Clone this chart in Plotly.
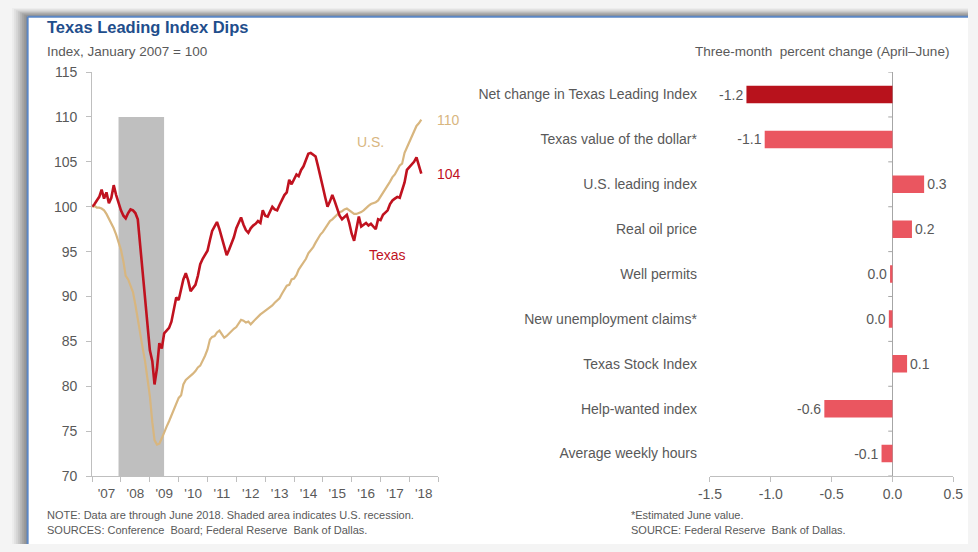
import pandas as pd
import plotly.graph_objects as go

# ---- Data -------------------------------------------------------------
months = pd.date_range("2007-01-01", periods=138, freq="MS")

texas = [
    100.0, 100.3, 100.7, 101.1, 101.9, 100.9, 101.6, 100.4, 101.0, 102.4, 101.3, 100.4,
    99.6, 99.0, 98.7, 99.3, 99.7, 99.6, 99.3, 98.6, 95.5, 92.5, 90.3, 87.0,
    84.0, 82.8, 80.2, 82.0, 84.8, 84.2, 85.9, 86.2, 86.5, 87.2, 88.4, 89.9,
    89.6, 90.8, 91.9, 92.6, 91.8, 90.6, 91.0, 91.3, 92.3, 93.6, 94.2, 94.7,
    95.1, 96.3, 97.3, 97.8, 98.3, 97.5, 96.6, 95.5, 94.6, 95.2, 95.9, 96.6,
    97.6, 98.3, 98.8, 98.0, 97.4, 97.1, 97.6, 97.9, 98.1, 98.4, 98.2, 99.6,
    99.0, 98.9, 99.5, 100.0, 99.7, 99.6, 100.2, 100.7, 101.3, 101.6, 103.0, 102.5,
    103.0, 103.6, 103.4, 104.1, 104.5, 105.2, 105.9, 106.0, 105.8, 105.6, 104.5, 103.2,
    102.2, 101.0, 100.0, 100.6, 101.3, 100.6, 99.8, 99.0, 98.6, 98.8, 99.1, 98.2,
    97.0, 96.2, 97.4, 98.9, 97.8, 98.0, 98.2, 97.9, 98.1, 97.8, 97.5, 98.6,
    98.5, 99.1, 99.3, 99.6, 100.3, 100.7, 100.9, 101.1, 101.0, 101.8, 102.7, 104.1,
    104.4, 104.8, 105.0, 105.5, 104.6, 103.7,
]

us = [
    100.0, 100.1, 99.9, 99.9, 99.8, 99.6, 99.2, 98.7, 98.2, 97.6, 96.9, 96.0,
    95.2, 93.9, 92.3, 91.9, 91.2, 90.5, 89.1, 87.3, 85.9, 84.3, 82.8, 80.9,
    78.9, 76.0, 74.0, 73.5, 73.6, 74.2, 74.9, 75.5, 76.1, 76.7, 77.4, 78.1,
    78.7, 79.0, 80.2, 80.7, 80.9, 81.2, 81.4, 81.7, 82.1, 82.3, 82.8, 83.4,
    84.1, 85.2, 85.5, 85.6, 86.0, 86.2, 85.8, 85.4, 85.6, 85.9, 86.1, 86.4,
    86.6, 87.0, 87.4, 87.3, 87.1, 87.2, 86.9, 87.2, 87.5, 87.8, 88.0, 88.2,
    88.4, 88.7, 88.8, 89.0, 89.3, 89.6, 89.8, 90.3, 90.8, 91.2, 91.3, 91.9,
    92.0, 92.4, 93.0, 93.4, 93.7, 94.2, 94.8, 95.1, 95.5, 96.0, 96.5, 96.9,
    97.2, 97.6, 98.1, 98.4, 98.6, 98.9, 99.2, 99.4, 99.5, 99.7, 99.8, 99.6,
    99.4, 99.2, 99.2, 99.3, 99.4, 99.6, 99.9, 100.1, 100.3, 100.4, 100.5, 100.7,
    101.1, 101.6, 102.0, 102.4, 102.8, 103.3, 103.6, 104.1, 104.6, 104.8, 106.0, 106.6,
    107.2, 107.9, 108.4, 109.0, 109.3, 109.7,
]

recession = ("2007-12-01", "2009-06-30")

components = [
    "Net change in Texas Leading Index",
    "Texas value of the dollar*",
    "U.S. leading index",
    "Real oil price",
    "Well permits",
    "New unemployment claims*",
    "Texas Stock Index",
    "Help-wanted index",
    "Average weekly hours",
]
changes = [-1.2, -1.05, 0.26, 0.16, -0.02, -0.03, 0.12, -0.56, -0.09]

left_yticks = [70, 75, 80, 85, 90, 95, 100, 105, 110, 115]
right_xticks = [-1.5, -1.0, -0.5, 0.0, 0.5]

# ---- Styling ----------------------------------------------------------
W, H = 978, 552
FONT = "Liberation Sans, Arial, sans-serif"
GREY_TXT = "#595959"
AXIS = "#BFBFBF"
RED = "#C0121F"
TAN = "#D8B67F"
BAR_DARK = "#B8121C"
BAR_LIGHT = "#EA5660"
BLUE_TITLE = "#1F4E8C"


def px_x(p):
    return p / W


def px_y(p):
    return 1 - p / H


fig = go.Figure()

fig.add_trace(go.Scatter(
    x=months, y=us, mode="lines", line=dict(color=TAN, width=2.2),
    xaxis="x", yaxis="y", showlegend=False, hoverinfo="skip"))
fig.add_trace(go.Scatter(
    x=months, y=texas, mode="lines", line=dict(color=RED, width=2.6),
    xaxis="x", yaxis="y", showlegend=False, hoverinfo="skip"))


def fmt(v):
    s = f"{v:.1f}"
    return "0.0" if s == "-0.0" else s


bar_colors = [BAR_DARK] + [BAR_LIGHT] * (len(changes) - 1)
fig.add_trace(go.Bar(
    x=changes, y=components, orientation="h", marker=dict(color=bar_colors, line=dict(width=0)),
    width=0.39, text=[fmt(v) for v in changes], textposition="outside",
    textfont=dict(size=14, color=GREY_TXT, family=FONT), cliponaxis=False,
    constraintext="none", xaxis="x2", yaxis="y2", showlegend=False, hoverinfo="skip"))

shapes = []
# card shadow (soft grey edge) and the card itself
for i, c in enumerate(["#EDEDED", "#E2E2E2", "#D6D6D6", "#C8C8C8", "#B8B8B8", "#A8A8A8", "#9A9A9A", "#8E8E8E"]):
    shapes.append(dict(type="rect", xref="paper", yref="paper", layer="below",
                       x0=px_x(i * 2), x1=1, y0=0, y1=px_y(i * 1.1),
                       fillcolor=c, line=dict(width=0)))
shapes.append(dict(type="rect", xref="paper", yref="paper", layer="below",
                   x0=px_x(16), x1=1, y0=0, y1=px_y(9),
                   fillcolor="white", line=dict(width=0)))
shapes.append(dict(type="line", xref="paper", yref="paper", layer="below",
                   x0=px_x(16), x1=px_x(16), y0=0, y1=px_y(9),
                   line=dict(color="#5B87C5", width=2)))
shapes.append(dict(type="line", xref="paper", yref="paper", layer="below",
                   x0=px_x(16), x1=1, y0=px_y(9), y1=px_y(9),
                   line=dict(color="#5B87C5", width=2)))
# recession shading
shapes.append(dict(type="rect", xref="x", yref="y", layer="below",
                   x0=recession[0], x1=recession[1], y0=left_yticks[0], y1=110,
                   fillcolor="#BFBFBF", line=dict(width=0)))
# category separators on the zero line
for k in range(len(components) + 1):
    shapes.append(dict(type="line", xref="x2", yref="y2", layer="above",
                       x0=-0.035, x1=0, y0=k - 0.5, y1=k - 0.5,
                       line=dict(color="#A6A6A6", width=1)))

ann = []


def note(x, y, text, size=11.5, color=GREY_TXT, anchor="left", bold=False, fam=FONT):
    ann.append(dict(xref="paper", yref="paper", x=px_x(x), y=px_y(y), text=f"<b>{text}</b>" if bold else text,
                    showarrow=False, xanchor=anchor, yanchor="middle",
                    font=dict(size=size, color=color, family=fam)))


note(34, 20, "Texas Leading Index Dips", size=16.5, color=BLUE_TITLE, bold=True)
note(34, 45, "Index, January 2007 = 100", size=13.5)
note(961, 45, "Three-month  percent change (April–June)", size=13.5, anchor="right")
note(34, 522, "NOTE: Data are through June 2018. Shaded area indicates U.S. recession.", size=11)
note(34, 538, "SOURCES: Conference  Board; Federal Reserve  Bank of Dallas.", size=11)
note(631, 522, "*Estimated June value.", size=11)
note(631, 538, "SOURCE: Federal Reserve  Bank of Dallas.", size=11)

# series labels
ann.append(dict(xref="x", yref="y", x=months[-1], y=us[-1], text=f"{round(us[-1])}",
                showarrow=False, xanchor="left", xshift=14, font=dict(size=14, color=TAN, family=FONT)))
ann.append(dict(xref="x", yref="y", x=months[-1], y=texas[-1], text=f"{round(texas[-1])}",
                showarrow=False, xanchor="left", xshift=14, font=dict(size=14, color=RED, family=FONT)))
ann.append(dict(xref="x", yref="y", x="2016-09-01", y=107.2, text="U.S.",
                showarrow=False, font=dict(size=14, color=TAN, family=FONT)))
ann.append(dict(xref="x", yref="y", x="2017-04-01", y=94.6, text="Texas",
                showarrow=False, font=dict(size=14, color=RED, family=FONT)))

ydom = [px_y(482), px_y(66)]

fig.update_layout(
    width=W, height=H, autosize=False,
    margin=dict(l=0, r=0, t=0, b=0),
    paper_bgcolor="#F4F4F4", plot_bgcolor="rgba(0,0,0,0)",
    font=dict(family=FONT, color=GREY_TXT),
    shapes=shapes, annotations=ann, bargap=0.6,
    xaxis=dict(domain=[px_x(82), px_x(436)], anchor="y", type="date",
               range=["2007-01-01", "2019-01-01"], tick0="2007-01-01", dtick="M12",
               ticklabelmode="period", tickformat="'%y", ticks="outside", ticklen=5,
               tickcolor=AXIS, showline=True, linecolor=AXIS, linewidth=1,
               showgrid=False, zeroline=False, tickfont=dict(size=13.5, color=GREY_TXT)),
    yaxis=dict(domain=ydom, anchor="x", range=[70, 115], tickvals=left_yticks,
               ticks="outside", ticklen=5, tickcolor=AXIS, showline=True, linecolor=AXIS,
               linewidth=1, showgrid=False, zeroline=False, ticklabelstandoff=6,
               tickfont=dict(size=14, color=GREY_TXT)),
    xaxis2=dict(domain=[px_x(714), px_x(963)], anchor="y2", range=[-1.5, 0.5],
                tickvals=right_xticks, ticktext=[f"{v:.1f}" for v in right_xticks],
                ticks="outside", ticklen=5, tickcolor=AXIS, showline=True, linecolor=AXIS,
                linewidth=1, showgrid=False, zeroline=True, zerolinecolor="#A6A6A6",
                zerolinewidth=1, tickfont=dict(size=14, color=GREY_TXT)),
    yaxis2=dict(domain=ydom, anchor="x2", type="category", categoryorder="array",
                categoryarray=components, range=[len(components) - 0.5, -0.5],
                showline=False, ticks="", showgrid=False, ticklabelstandoff=12,
                tickfont=dict(size=14, color=GREY_TXT)),
)

fig.write_html("out.html")
